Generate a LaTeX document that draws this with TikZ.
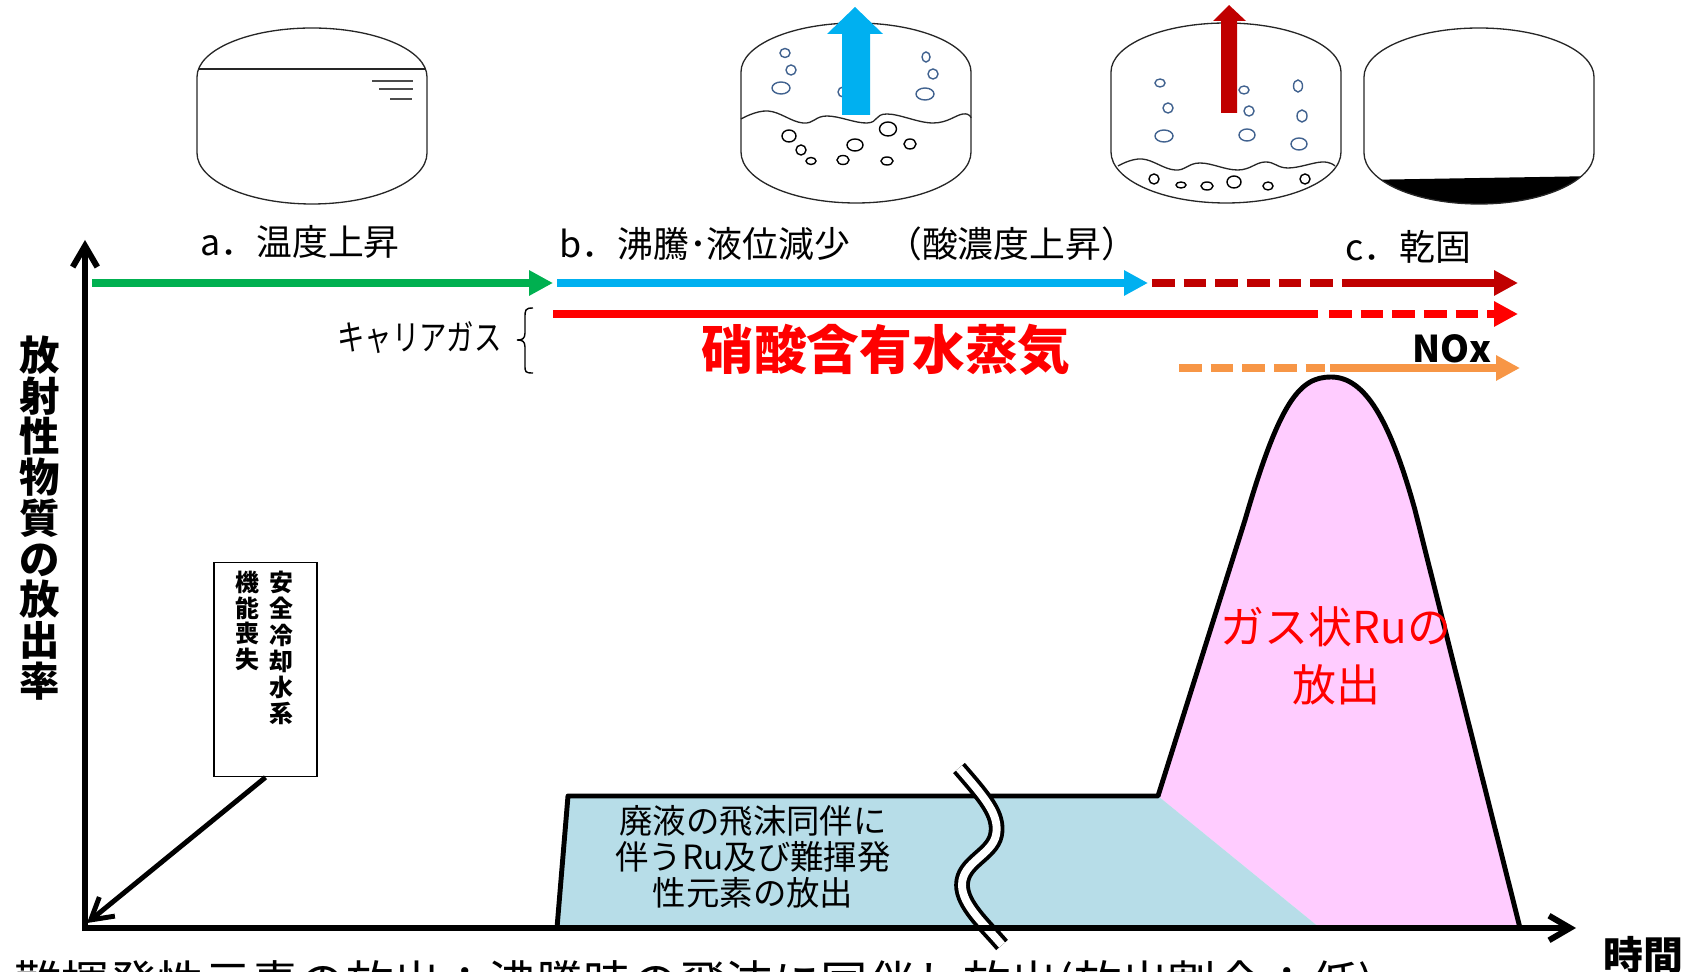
\documentclass[tikz,border=0pt]{standalone}
\usepackage{fontspec}
\setmainfont{Noto Sans CJK JP}
\usetikzlibrary{arrows.meta}

\definecolor{stageA}{HTML}{00B050}
\definecolor{stageB}{HTML}{00B0F0}
\definecolor{stageC}{HTML}{C00000}
\definecolor{vapour}{HTML}{FF0000}
\definecolor{noxline}{HTML}{F79646}
\definecolor{mistfill}{HTML}{B7DDE8}
\definecolor{rufill}{HTML}{FFCCFF}
\definecolor{bubblue}{HTML}{41628F}

% drum-shaped tank: #1 left x, #2 top of straight side, #3 bottom of straight side
\newcommand\drumvessel[3]{%
  \draw[vessel] (#1,#2) -- (#1,#3)
    arc[start angle=180,end angle=0,x radius=115,y radius=51]
    -- (#1+230,#2)
    arc[start angle=0,end angle=-180,x radius=115,y radius=49] -- cycle;}

\begin{document}
\begin{tikzpicture}[x=0.02cm,y=-0.02cm,
  vessel/.style={draw=black!85,line width=0.75pt},
  gasbub/.style={draw=bubblue,line width=0.8pt},
  liqbub/.style={draw=black,line width=0.8pt},
  phase/.style={line width=4pt,-{Triangle[length=13.6pt,width=13.6pt]}},
  dashseg/.style={line width=4pt,dash pattern=on 13pt off 5pt},
  axis/.style={line width=3.4pt,-{Straight Barb[length=12pt,width=14pt]}},
  lbl/.style={inner sep=0pt,font=\fontsize{20.4}{24}\selectfont},
  outline/.style={line width=2.8pt,line join=round}]

\useasboundingbox (0,0) rectangle (1700,972);
\clip (0,0) rectangle (1700,972);

% ---------- tank a: temperature rise ----------
\drumvessel{197}{77}{153}
\draw[vessel] (199,69) -- (425,69);
\draw[black!70,line width=0.6pt] (372,81) -- (413,81) (379,89) -- (413,89) (390,99) -- (412,99);

% ---------- tank b: boiling ----------
\drumvessel{741}{72}{152}
\draw[vessel] plot[smooth,tension=0.7] coordinates
  {(741,119) (768,111) (803,123) (827,116) (867,123) (887,114) (933,123) (963,114) (971,118)};
\foreach \x/\y/\rx/\ry in {785/53/5/4.5, 791/70/5/5, 781/88/9/6, 926/57/4/5, 933/74/5/5, 925/94/9/6, 843/92/5/5}
  \draw[gasbub] (\x,\y) ellipse[x radius=\rx,y radius=\ry];
\foreach \x/\y/\rx/\ry in {789/136/7/6, 801/150/5/5, 811/161/5/3.5, 843/160/6/4.5, 855/145/8/6, 888/129/8.5/7, 910/144/6/5, 887/161/6/4}
  \draw[liqbub] (\x,\y) ellipse[x radius=\rx,y radius=\ry];
\fill[stageB] (842,115) -- (842,34) -- (827,34) -- (855,7) -- (883,34) -- (870,34) -- (870,115) -- cycle;

% ---------- tank c: late boiling ----------
\drumvessel{1111}{72}{152}
\draw[vessel] plot[smooth,tension=0.7] coordinates
  {(1118,166) (1142,159) (1175,170) (1200,163) (1238,170) (1265,162) (1288,168) (1322,162) (1335,166)};
\foreach \x/\y/\rx/\ry in {1160/83/5/4, 1168/108/5/5, 1164/136/9/6, 1244/90/5/4, 1249/111/5/5, 1247/135/8/6, 1298/86/4.5/6, 1302/116/5/6, 1299/144/8/6}
  \draw[gasbub] (\x,\y) ellipse[x radius=\rx,y radius=\ry];
\foreach \x/\y/\rx/\ry in {1154/179/5/5, 1181/185/5/3, 1207/186/6/4, 1234/182/7/6, 1268/186/5/4, 1305/179/5/5}
  \draw[liqbub] (\x,\y) ellipse[x radius=\rx,y radius=\ry];
\fill[stageC] (1221,113) -- (1221,21) -- (1213,21) -- (1229,5) -- (1246,21) -- (1237,21) -- (1237,113) -- cycle;

% ---------- tank d: dry-out ----------
\begin{scope}
  \clip (1364,153) arc[start angle=180,end angle=0,x radius=115,y radius=51] -- cycle;
  \fill[black] (1360,180) -- (1600,176) -- (1600,215) -- (1360,215) -- cycle;
\end{scope}
\drumvessel{1364}{77}{153}

% ---------- stage labels ----------
\node[lbl,anchor=west] (labA) at (200,242) {a．温度上昇};
\node[lbl,anchor=west] (labB) at (559,244) {b．沸騰･液位減少　（酸濃度上昇）};
\node[lbl,anchor=west] (labC) at (1345,247) {c．乾固};

% ---------- stage arrows ----------
\coordinate (a0) at (92,283);  \coordinate (a1) at (553,283);
\coordinate (b0) at (557,283); \coordinate (b1) at (1148,283);
\coordinate (c0) at (1152,283); \coordinate (cm) at (1345,283); \coordinate (c1) at (1518,283);
\draw[phase,stageA] (a0) -- (a1);
\draw[phase,stageB] (b0) -- (b1);
\draw[dashseg,stageC] (c0) -- (cm);
\draw[phase,stageC] (cm) -- (c1);

% carrier gas
\coordinate (v0) at (553,314); \coordinate (vm) at (1318,314);
\coordinate (vd) at (1329,314); \coordinate (v1) at (1518,314);
\draw[line width=4pt,vapour] (v0) -- (vm);
\draw[phase,vapour,dash pattern=on 13pt off 5pt] (vd) -- (v1);
\coordinate (n0) at (1179,368); \coordinate (nm) at (1325,368);
\coordinate (nd) at (1330,368); \coordinate (n1) at (1520,368);
\draw[dashseg,noxline] (n0) -- (nm);
\draw[phase,noxline] (nd) -- (n1);

\node[inner sep=0pt,anchor=east,font=\fontsize{20}{24}\selectfont] (carrier) at (502,338)
  {\scalebox{0.78}[1]{キャリアガス}};
\draw[line width=0.8pt] (533,308) .. controls (525,308) and (525,310) .. (525,318)
  -- (525,333) .. controls (525,339) and (522,340) .. (517,340)
  .. controls (522,340) and (525,341) .. (525,347)
  -- (525,365) .. controls (525,372) and (525,373) .. (533,373);
\node[inner sep=0pt,text=vapour,font=\bfseries\fontsize{30}{34}\selectfont] (vaptxt) at (886,350) {硝酸含有水蒸気};
\node[inner sep=0pt,font=\bfseries\fontsize{21}{24}\selectfont] (nox) at (1452,349) {NOx};

% ---------- release curves ----------
\fill[rufill] (1158,796) -- (1245,520) .. controls (1280,400) and (1300,377) .. (1331,377)
  .. controls (1365,377) and (1390,420) .. (1415,510) -- (1520,928) -- (1320,928) -- cycle;
\fill[mistfill] (557,928) -- (568,796) -- (1158,796) -- (1320,928) -- cycle;
\draw[outline] (557,928) -- (568,796) -- (1158,796) -- (1245,520)
  .. controls (1280,400) and (1300,377) .. (1331,377)
  .. controls (1365,377) and (1390,420) .. (1415,510) -- (1520,928);

% time-axis break
\draw[line width=2.2pt,double=white,double distance=4.5pt]
  (959,768) .. controls (985,798) and (1000,815) .. (996,835)
  .. controls (992,855) and (962,862) .. (962,885)
  .. controls (962,905) and (985,925) .. (1002,945);

\node[inner sep=0pt,align=center,font=\fontsize{19}{20.4}\selectfont] (mist) at (753,857)
  {廃液の飛沫同伴に\\伴うRu及び難揮発\\性元素の放出};
\node[inner sep=0pt,align=center,text=vapour,font=\fontsize{25}{32.9}\selectfont] (rugas) at (1336,656)
  {ガス状Ruの\\放出};

% ---------- axes ----------
\coordinate (org) at (85,931);
\draw[axis] (org) -- (85,240);
\draw[axis] (82,928) -- (1576,928);
\node[inner sep=0pt,align=center,font=\bfseries\fontsize{23}{23.2}\selectfont] (ylab) at (40,518)
  {放\\射\\性\\物\\質\\の\\放\\出\\率};
\node[inner sep=0pt,font=\bfseries\fontsize{22.7}{26}\selectfont] (xlab) at (1643,955) {時間};

% ---------- loss of cooling marker ----------
\node[draw,line width=0.85pt,minimum width=58.4pt,minimum height=121.9pt,inner sep=0pt] (loss) at (265.5,669.5) {};
\node[inner sep=0pt,anchor=north,align=center,font=\bfseries\fontsize{13.6}{14.9}\selectfont] (lossR) at (281,571)
  {安\\全\\冷\\却\\水\\系};
\node[inner sep=0pt,anchor=north,align=center,font=\bfseries\fontsize{13.6}{14.5}\selectfont] (lossL) at (247,571)
  {機\\能\\喪\\失};
\coordinate (lossTip) at (87,923);
\draw[line width=2.8pt,-{Straight Barb[length=12pt,width=14pt]}] (loss.south) -- (lossTip);

% ---------- note below the axis ----------
\node[inner sep=0pt,anchor=base west,font=\fontsize{27}{30}\selectfont] (note) at (14,1000)
  {難揮発性元素の放出：沸騰時の飛沫に同伴し放出(放出割合：低)};

\end{tikzpicture}
\end{document}
